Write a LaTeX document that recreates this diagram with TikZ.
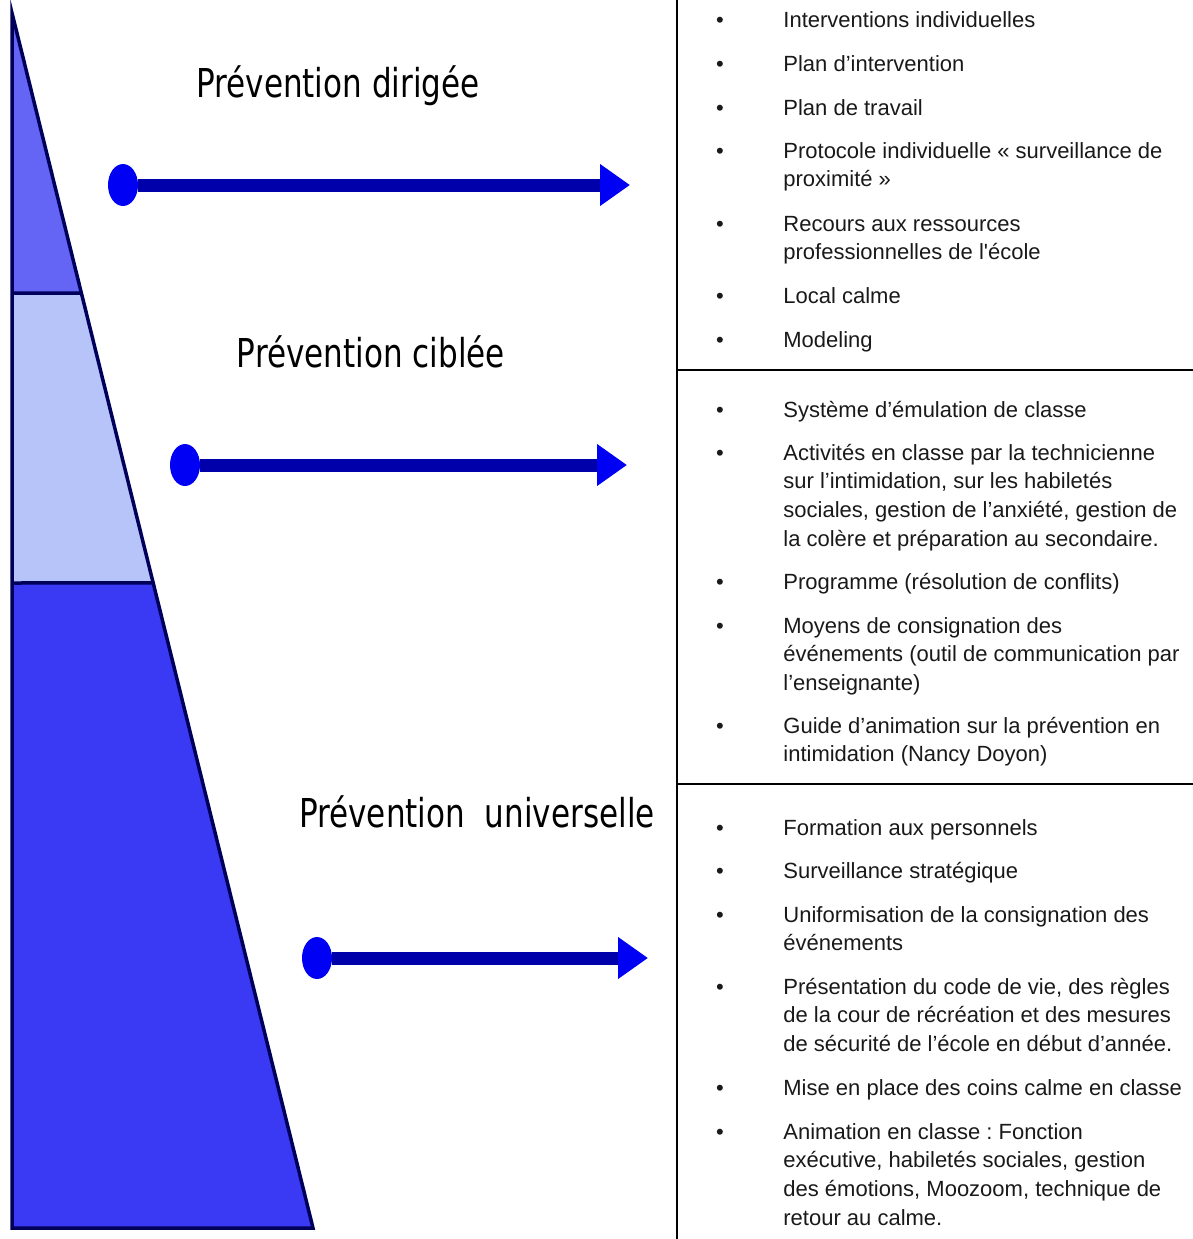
\documentclass[tikz,border=0pt]{standalone}
\usepackage{fontspec}
\setmainfont{Liberation Sans}
\newfontfamily\titrefont{DejaVu Sans}
\usepackage{graphicx}
\usetikzlibrary{arrows.meta,shapes.geometric,calc}
\frenchspacing

\definecolor{hautbleu}{RGB}{100,100,245}
\definecolor{milieubleu}{RGB}{182,196,250}
\definecolor{basbleu}{RGB}{58,58,245}
\definecolor{contour}{RGB}{0,0,90}
\definecolor{tige}{RGB}{0,0,170}
\definecolor{pointe}{RGB}{0,0,245}
\definecolor{texte}{RGB}{25,25,25}

\newcommand{\lignes}[1]{\begin{tabular}[t]{@{}l@{}}#1\end{tabular}}

\tikzset{
  titre/.style={anchor=base,inner sep=0pt,font=\titrefont\fontsize{19.9}{24}\selectfont},
  puce/.style={anchor=base,inner sep=0pt,text=texte,font=\fontsize{11}{14.35}\selectfont},
  ligne/.style={anchor=base west,inner sep=0pt,text=texte,font=\fontsize{11}{14.35}\selectfont},
  point/.style={ellipse,fill=pointe,inner sep=0pt,minimum width=15pt,minimum height=21pt},
  fleche/.style={draw=tige,line width=6.5pt,-{Triangle[length=15pt,width=20pt,color=pointe]}},
  trait/.style={draw=black,line width=1pt}
}

\begin{document}
\begin{tikzpicture}[x=0.5pt,y=-0.5pt]
	\useasboundingbox (0,0) rectangle (1193,1239);
	% triangle
	\coordinate (haut) at (12,13);
	\coordinate (basg) at (12,1228);
	\coordinate (basd) at (313,1228);
	\coordinate (g1) at (12,293);
	\coordinate (c1) at ($(haut)!0.2305!(basd)$);
	\coordinate (g2) at (12,583);
	\coordinate (c2) at ($(haut)!0.469!(basd)$);
	\fill [hautbleu] (haut) -- (c1) -- (g1) -- cycle;
	\fill [milieubleu] (g1) -- (c1) -- (c2) -- (g2) -- cycle;
	\fill [basbleu] (g2) -- (c2) -- (basd) -- (basg) -- cycle;
	\draw [contour,line width=1.75pt] (haut) -- (basd) -- (basg) -- cycle;
	\draw [contour,line width=1.75pt] (g1) -- (c1) (g2) -- (c2);
	% titres
	\node [titre] (dirigee) at (338,97) {\scalebox{0.78}[1]{Prévention dirigée}};
	\node [titre] (ciblee) at (371,367) {\scalebox{0.78}[1]{Prévention ciblée}};
	\node [titre] (universelle) at (477,827) {\scalebox{0.78}[1]{Prévention\ \ universelle}};
	% fleches
	\node [point] (p1) at (123,185) {};
	\coordinate (f1) at (630,185);
	\draw [fleche] (p1) -- (f1);
	\node [point] (p2) at (185,465) {};
	\coordinate (f2) at (627,465);
	\draw [fleche] (p2) -- (f2);
	\node [point] (p3) at (317,958) {};
	\coordinate (f3) at (648,958);
	\draw [fleche] (p3) -- (f3);
	% colonne
	\coordinate (colh) at (677,0);
	\coordinate (colb) at (677,1239);
	\coordinate (s1g) at (677,370);
	\coordinate (s1d) at (1193,370);
	\coordinate (s2g) at (677,784);
	\coordinate (s2d) at (1193,784);
	\draw [trait] (colh) -- (colb);
	\draw [trait] (s1g) -- (s1d);
	\draw [trait] (s2g) -- (s2d);
	% prevention dirigee
	\node [puce] (b1) at (720,27) {•};
	\node [ligne] (t1) at (783,27) {\lignes{Interventions individuelles}};
	\node [puce] (b2) at (720,71) {•};
	\node [ligne] (t2) at (783,71) {\lignes{Plan d’intervention}};
	\node [puce] (b3) at (720,115) {•};
	\node [ligne] (t3) at (783,115) {\lignes{Plan de travail}};
	\node [puce] (b4) at (720,158) {•};
	\node [ligne] (t4) at (783,158) {\lignes{Protocole individuelle « surveillance de\\proximité »}};
	\node [puce] (b5) at (720,231) {•};
	\node [ligne] (t5) at (783,231) {\lignes{Recours aux ressources\\professionnelles de l\textquotesingle école}};
	\node [puce] (b6) at (720,303) {•};
	\node [ligne] (t6) at (783,303) {\lignes{Local calme}};
	\node [puce] (b7) at (720,347) {•};
	\node [ligne] (t7) at (783,347) {\lignes{Modeling}};
	% prevention ciblee
	\node [puce] (b8) at (720,417) {•};
	\node [ligne] (t8) at (783,417) {\lignes{Système d’émulation de classe}};
	\node [puce] (b9) at (720,460) {•};
	\node [ligne] (t9) at (783,460) {\lignes{Activités en classe par la technicienne\\sur l’intimidation, sur les habiletés\\sociales, gestion de l’anxiété, gestion de\\la colère et préparation au secondaire.}};
	\node [puce] (b10) at (720,589) {•};
	\node [ligne] (t10) at (783,589) {\lignes{Programme (résolution de conflits)}};
	\node [puce] (b11) at (720,633) {•};
	\node [ligne] (t11) at (783,633) {\lignes{Moyens de consignation des\\événements (outil de communication par\\l’enseignante)}};
	\node [puce] (b12) at (720,733) {•};
	\node [ligne] (t12) at (783,733) {\lignes{Guide d’animation sur la prévention en\\intimidation (Nancy Doyon)}};
	% prevention universelle
	\node [puce] (b13) at (720,835) {•};
	\node [ligne] (t13) at (783,835) {\lignes{Formation aux personnels}};
	\node [puce] (b14) at (720,878) {•};
	\node [ligne] (t14) at (783,878) {\lignes{Surveillance stratégique}};
	\node [puce] (b15) at (720,922) {•};
	\node [ligne] (t15) at (783,922) {\lignes{Uniformisation de la consignation des\\événements}};
	\node [puce] (b16) at (720,994) {•};
	\node [ligne] (t16) at (783,994) {\lignes{Présentation du code de vie, des règles\\de la cour de récréation et des mesures\\de sécurité de l’école en début d’année.}};
	\node [puce] (b17) at (720,1095) {•};
	\node [ligne] (t17) at (783,1095) {\lignes{Mise en place des coins calme en classe}};
	\node [puce] (b18) at (720,1139) {•};
	\node [ligne] (t18) at (783,1139) {\lignes{Animation en classe : Fonction\\exécutive, habiletés sociales, gestion\\des émotions, Moozoom, technique de\\retour au calme.}};
\end{tikzpicture}
\end{document}
